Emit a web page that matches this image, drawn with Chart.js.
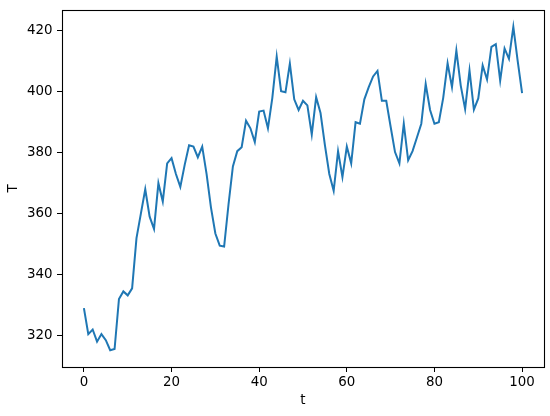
<!DOCTYPE html>
<html>
<head>
<meta charset="utf-8">
<script src="https://cdn.jsdelivr.net/npm/chart.js@4/dist/chart.umd.min.js"></script>
<style>
  html, body { margin: 0; padding: 0; background: #fff; }
  #wrap { width: 550px; height: 416px; }
</style>
</head>
<body>
<div id="wrap"><canvas id="chart" width="550" height="416"></canvas></div>
<script>
// values
const tValues = [];
for (let i = 0; i <= 100; i++) tValues.push(i);
const TValues = [
  329, 320.5, 322, 318, 320.5, 318.5, 315.2, 315.6, 332, 334.5,
  333.2, 335.5, 352, 360, 368, 359, 355, 370, 364, 376.5,
  378.2, 373, 368.8, 376, 382.4, 382, 378.5, 382, 373, 362,
  353.5, 349.5, 349.2, 363, 375.5, 380.5, 381.8, 390.5, 388, 383.5,
  393.5, 393.8, 388, 398, 411.5, 400.2, 399.8, 409.2, 397.5, 394,
  397, 395.5, 386, 398.2, 393, 382.5, 373, 367.5, 380.5, 372,
  382, 376.5, 390, 389.5, 397.5, 401.5, 405, 406.8, 397, 397,
  388.5, 380.2, 376.5, 389.5, 377.5, 380.5, 385, 389.5, 402.5, 394,
  389.5, 390, 398, 409.3, 401.5, 413.5, 402, 394.3, 407, 394.1,
  397.8, 408.6, 404, 414.7, 415.6, 403.6, 414.2, 410.8, 421.3, 410,
  399.5
];
const xTicks = [0, 20, 40, 60, 80, 100];
const yTicks = [320, 340, 360, 380, 400, 420];

const frame = {
  id: 'frame',
  afterDraw(chart) {
    const { ctx, chartArea: a } = chart;
    ctx.save();
    ctx.strokeStyle = '#000';
    ctx.lineWidth = 1.1;
    ctx.strokeRect(Math.round(a.left) + 0.5, Math.round(a.top) + 0.5,
      Math.round(a.right - a.left), Math.round(a.bottom - a.top));
    ctx.restore();
  }
};

const tickFont = { family: 'DejaVu Sans', size: 13.4 };

new Chart(document.getElementById('chart'), {
  type: 'line',
  data: {
    datasets: [{
      data: tValues.map((t, i) => ({ x: t, y: TValues[i] })),
      borderColor: '#1f77b4',
      borderWidth: 2,
      pointRadius: 0,
      tension: 0,
      fill: false
    }]
  },
  options: {
    responsive: false,
    animation: false,
    layout: { padding: { left: 0, right: 6, top: 10, bottom: 7 } },
    plugins: { legend: { display: false }, tooltip: { enabled: false } },
    scales: {
      x: {
        type: 'linear',
        min: -5,
        max: 105,
        afterBuildTicks: s => { s.ticks = xTicks.map(v => ({ value: v })); },
        afterFit: s => { s.height = 42; s.paddingLeft = 0; s.paddingRight = 0; },
        grid: { display: true, drawOnChartArea: false, tickLength: 5, tickColor: '#000' },
        border: { display: false },
        ticks: { color: '#000', font: tickFont, padding: 2, maxRotation: 0 },
        title: { display: true, text: 't', color: '#000', font: tickFont, padding: { top: 0, bottom: 0 } }
      },
      y: {
        min: 309.7,
        max: 426.8,
        afterBuildTicks: s => { s.ticks = yTicks.map(v => ({ value: v })); },
        afterFit: s => { s.width = 62; s.paddingTop = 0; s.paddingBottom = 0; },
        grid: { display: true, drawOnChartArea: false, tickLength: 5, tickColor: '#000' },
        border: { display: false },
        ticks: { color: '#000', font: tickFont, padding: 4.5 },
        title: { display: true, text: 'T', color: '#000', font: tickFont, padding: { top: 5, bottom: 0 } }
      }
    }
  },
  plugins: [frame]
});
</script>
</body>
</html>
